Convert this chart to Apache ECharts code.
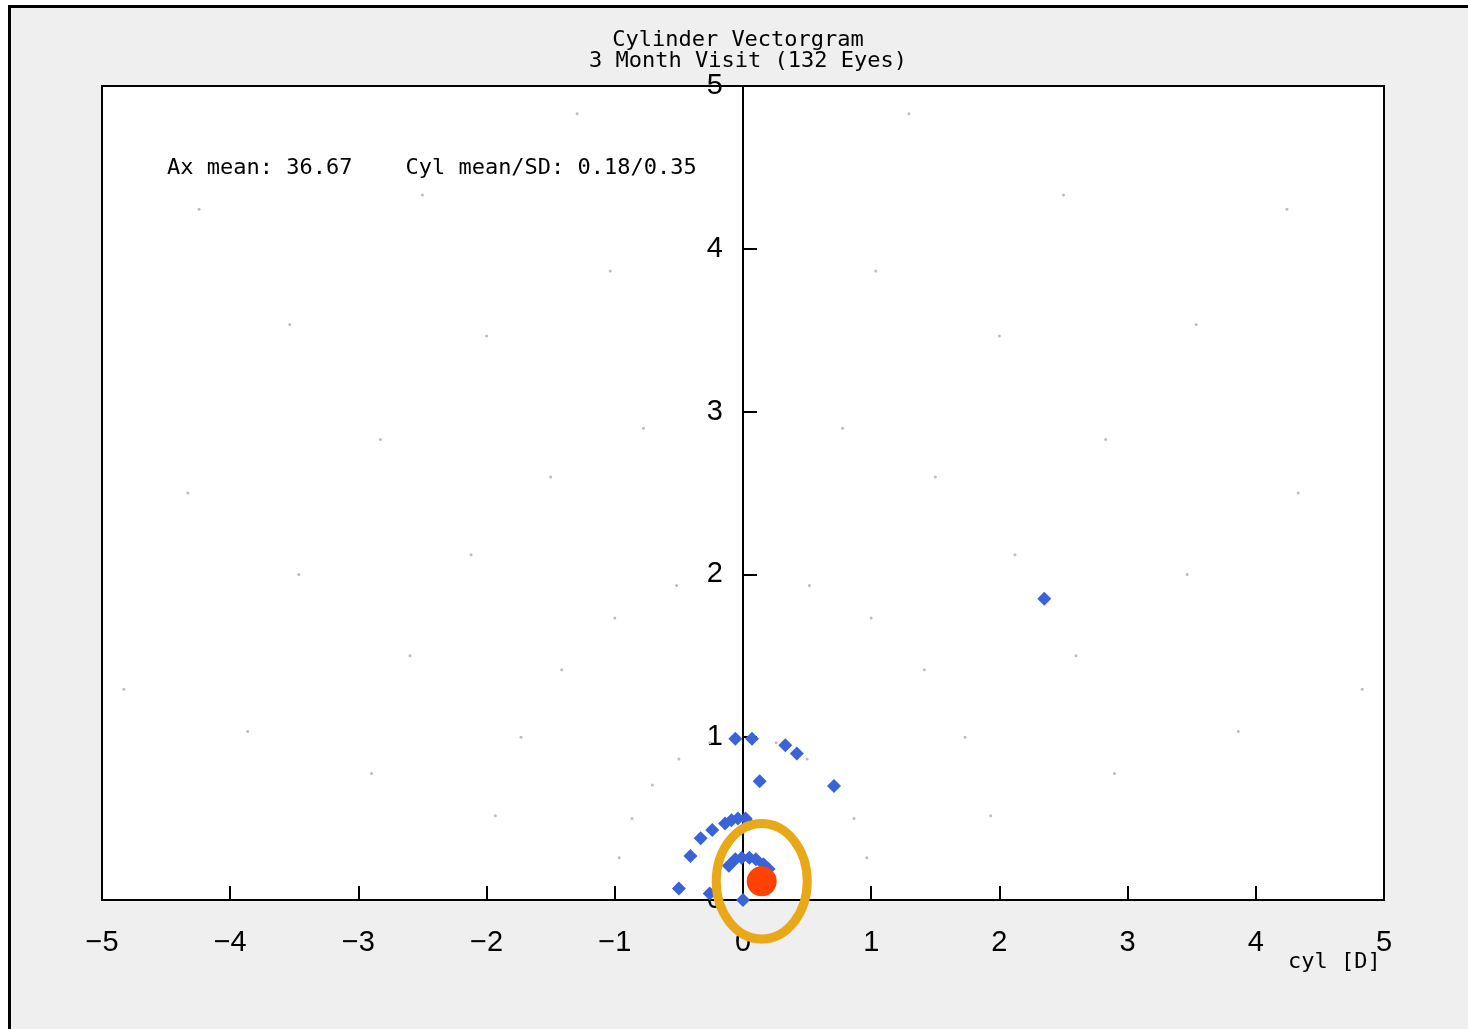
<!DOCTYPE html>
<html>
<head>
<meta charset="utf-8">
<script src="https://cdn.jsdelivr.net/npm/echarts@6/dist/echarts.min.js"></script>
<style>
html,body{margin:0;padding:0;background:#fff;}
#chart{width:1468px;height:1029px;}
</style>
</head>
<body>
<div id="chart"></div>
<script>
// ---- data ----
const titleLines = ['Cylinder Vectorgram', '3 Month Visit (132 Eyes)'];
const annotation = 'Ax mean: 36.67    Cyl mean/SD: 0.18/0.35';
const xAxisName = 'cyl [D]';
const xTickValues = [-5, -4, -3, -2, -1, 0, 1, 2, 3, 4, 5];
const yTickValues = [0, 1, 2, 3, 4, 5];
const eyeX = [2.35, -0.06, 0.07, 0.33, 0.42, 0.13, 0.71, 0.02, 0.05, -0.04, -0.09, -0.14, -0.24, -0.33, -0.41, -0.50, -0.26, 0.00, -0.11, -0.06, -0.01, 0.05, 0.10, 0.16, 0.20];
const eyeY = [1.85, 0.99, 0.99, 0.95, 0.90, 0.73, 0.70, 0.50, 0.47, 0.50, 0.49, 0.47, 0.43, 0.38, 0.27, 0.07, 0.04, 0.00, 0.21, 0.25, 0.26, 0.26, 0.25, 0.22, 0.19];
const meanX = [0.146];
const meanY = [0.115];
const sdRadius = [0.355];
const gridRadii = [1, 2, 3, 4, 5, 6];
const gridAngles = [15, 30, 45, 60, 75, 105, 120, 135, 150, 165];

// ---- build ----
const eyePoints = eyeX.map((x, i) => [x, eyeY[i]]);
const polarDots = [];
gridRadii.forEach(r => gridAngles.forEach(a => {
  const t = a * Math.PI / 180;
  polarDots.push([r * Math.cos(t), r * Math.sin(t)]);
}));
const meanData = meanX.map((x, i) => [x, meanY[i], sdRadius[i]]);

const labelFont = {fontFamily: 'Liberation Sans', fontSize: 29, color: '#000'};
const mono = '22px "DejaVu Sans Mono"';

const chart = echarts.init(document.getElementById('chart'), null, {renderer: 'canvas'});
chart.setOption({
  animation: false,
  backgroundColor: '#fff',
  graphic: [
    {type: 'rect', z: -100, silent: true,
     shape: {x: 9.5, y: 6.5, width: 1500, height: 1100},
     style: {fill: '#efefef', stroke: '#000', lineWidth: 3}},
    {type: 'text', x: 738, y: 40, style: {text: titleLines[0], font: mono, fill: '#000', textAlign: 'center', textVerticalAlign: 'middle'}},
    {type: 'text', x: 748, y: 61, style: {text: titleLines[1], font: mono, fill: '#000', textAlign: 'center', textVerticalAlign: 'middle'}},
    {type: 'text', x: 167, y: 168, z: 10, style: {text: annotation, font: mono, fill: '#000', textAlign: 'left', textVerticalAlign: 'middle'}},
    {type: 'text', x: 1288, y: 962, style: {text: xAxisName, font: mono, fill: '#000', textAlign: 'left', textVerticalAlign: 'middle'}}
  ],
  grid: {
    left: 102, right: 84, top: 86, bottom: 129,
    show: true, backgroundColor: '#fff', borderColor: '#000', borderWidth: 2
  },
  xAxis: {
    type: 'value', min: -5, max: 5, interval: 1,
    axisLine: {show: true, onZero: false, lineStyle: {color: '#000', width: 2}},
    axisTick: {show: true, inside: true, length: 14, lineStyle: {color: '#000', width: 2}},
    splitLine: {show: false},
    axisLabel: Object.assign({margin: 28, showMinLabel: true, showMaxLabel: true,
      formatter: v => xTickValues.includes(v) ? (v < 0 ? '\u2212' + Math.abs(v) : String(v)) : ''}, labelFont)
  },
  yAxis: {
    type: 'value', min: 0, max: 5, interval: 1,
    position: 'left', offset: -641,
    axisLine: {show: true, onZero: false, lineStyle: {color: '#000', width: 2}},
    axisTick: {show: true, inside: true, length: 14, lineStyle: {color: '#000', width: 2}},
    splitLine: {show: false},
    axisLabel: Object.assign({margin: 20, showMinLabel: true, showMaxLabel: true,
      formatter: v => yTickValues.includes(v) ? String(v) : ''}, labelFont)
  },
  series: [
    {type: 'scatter', data: polarDots, symbol: 'circle', symbolSize: 3,
     itemStyle: {color: '#bdbdbd', opacity: 1}, silent: true, z: 1},
    {type: 'scatter', data: eyePoints, symbol: 'diamond', symbolSize: 14,
     itemStyle: {color: '#3a63d8', opacity: 1}, z: 3, clip: false},
    {type: 'custom', z: 4, clip: false, data: meanData,
     renderItem: function (params, api) {
       const c = api.coord([api.value(0), api.value(1)]);
       const r = api.value(2);
       const sx = api.size([r, 0])[0];
       const sy = api.size([0, r])[1];
       return {type: 'ellipse', shape: {cx: c[0], cy: c[1], rx: sx, ry: sy},
               style: {fill: null, stroke: '#e9a817', lineWidth: 9}};
     }},
    {type: 'scatter', data: meanData.map(d => [d[0], d[1]]), symbol: 'circle', symbolSize: 30,
     itemStyle: {color: '#ff4200', opacity: 1}, z: 5}
  ]
});
</script>
</body>
</html>
